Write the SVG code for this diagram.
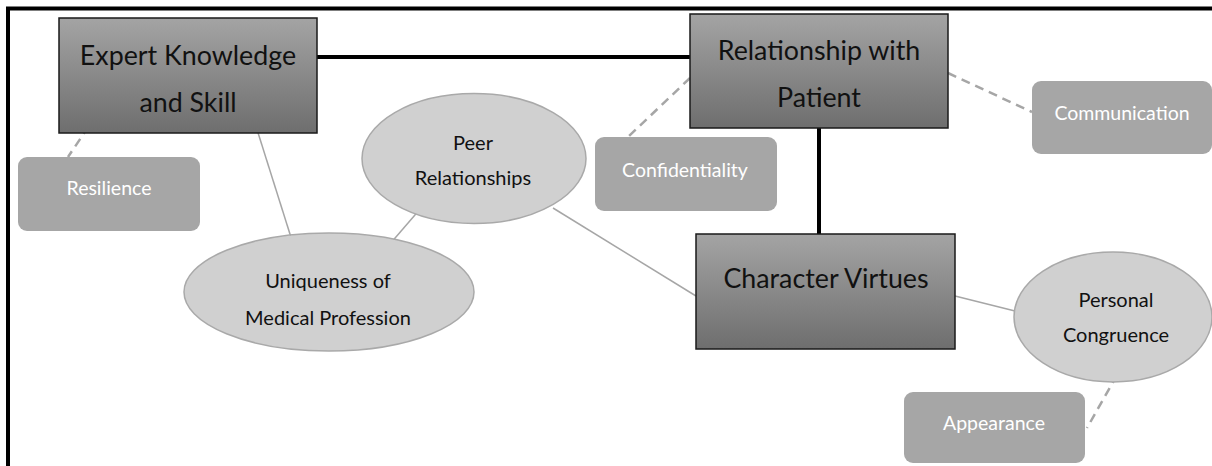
<svg xmlns="http://www.w3.org/2000/svg" width="1212" height="466" viewBox="0 0 1212 466">
<defs>
<linearGradient id="g" x1="0" y1="0" x2="0" y2="1">
<stop offset="0" stop-color="#a4a4a4"/>
<stop offset="1" stop-color="#6e6e6e"/>
</linearGradient>
<style>
.main{fill:url(#g);stroke:#1a1a1a;stroke-width:1.5}
.mt{font-family:Lato,"Liberation Sans",sans-serif;font-size:26.8px;fill:#111;text-anchor:middle}
.sub{fill:#a6a6a6}
.st{font-family:Lato,"Liberation Sans",sans-serif;font-size:19.5px;fill:#fff;text-anchor:middle}
.ell{fill:#d0d0d0;stroke:#a9a9a9;stroke-width:1.5}
.et{font-family:Lato,"Liberation Sans",sans-serif;font-size:20px;fill:#111;text-anchor:middle}
.thick{stroke:#000;stroke-width:4;fill:none}
.thin{stroke:#a6a6a6;stroke-width:1.5;fill:none}
.dash{stroke:#a6a6a6;stroke-width:2.5;stroke-dasharray:9 6;fill:none}
</style>
</defs>
<rect width="1212" height="466" fill="#fff"/>
<path d="M8,466 V8.5 H1212" fill="none" stroke="#000" stroke-width="4"/>
<g id="connectors">
<line class="thick" x1="317" y1="57" x2="690" y2="57"/>
<line class="thick" x1="819" y1="128" x2="819" y2="234"/>
<line class="dash" x1="97" y1="114" x2="68" y2="157"/>
<line class="thin" x1="254" y1="120" x2="295" y2="250"/>
<line class="thin" x1="421" y1="208" x2="383" y2="252"/>
<line class="thin" x1="553" y1="208" x2="696" y2="296"/>
<line class="thin" x1="955" y1="296" x2="1015" y2="311"/>
<line class="dash" x1="1117" y1="375" x2="1087" y2="428"/>
<line class="dash" x1="948" y1="73" x2="1032" y2="112"/>
<line class="dash" x1="690" y1="78" x2="628" y2="137"/>
</g>
<g id="expert">
<rect class="main" x="59" y="18" width="258" height="115"/>
<text class="mt" x="188" y="65">Expert Knowledge</text>
<text class="mt" x="188" y="112">and Skill</text>
</g>
<g id="relationship">
<rect class="main" x="690" y="14" width="258" height="114"/>
<text class="mt" x="819" y="60">Relationship with</text>
<text class="mt" x="819" y="107">Patient</text>
</g>
<g id="character">
<rect class="main" x="696" y="234" width="259" height="115"/>
<text class="mt" x="826" y="288">Character Virtues</text>
</g>
<g id="resilience">
<rect class="sub" x="18" y="157" width="182" height="74" rx="9"/>
<text class="st" x="109" y="195">Resilience</text>
</g>
<g id="confidentiality">
<rect class="sub" x="595" y="137" width="182" height="74" rx="9"/>
<text class="st" x="685" y="177">Confidentiality</text>
</g>
<g id="communication">
<rect class="sub" x="1032" y="81" width="180" height="73" rx="9"/>
<text class="st" x="1122" y="120">Communication</text>
</g>
<g id="appearance">
<rect class="sub" x="904" y="392" width="181" height="71" rx="9"/>
<text class="st" x="994" y="430">Appearance</text>
</g>
<g id="peer">
<ellipse class="ell" cx="474" cy="158.5" rx="112" ry="65"/>
<text class="et" x="473" y="150">Peer</text>
<text class="et" x="473" y="185">Relationships</text>
</g>
<g id="uniqueness">
<ellipse class="ell" cx="329" cy="292" rx="145" ry="59"/>
<text class="et" x="328" y="288">Uniqueness of</text>
<text class="et" x="328" y="325">Medical Profession</text>
</g>
<g id="personal">
<ellipse class="ell" cx="1113" cy="317" rx="99" ry="65"/>
<text class="et" x="1116" y="307">Personal</text>
<text class="et" x="1116" y="342">Congruence</text>
</g>
</svg>
